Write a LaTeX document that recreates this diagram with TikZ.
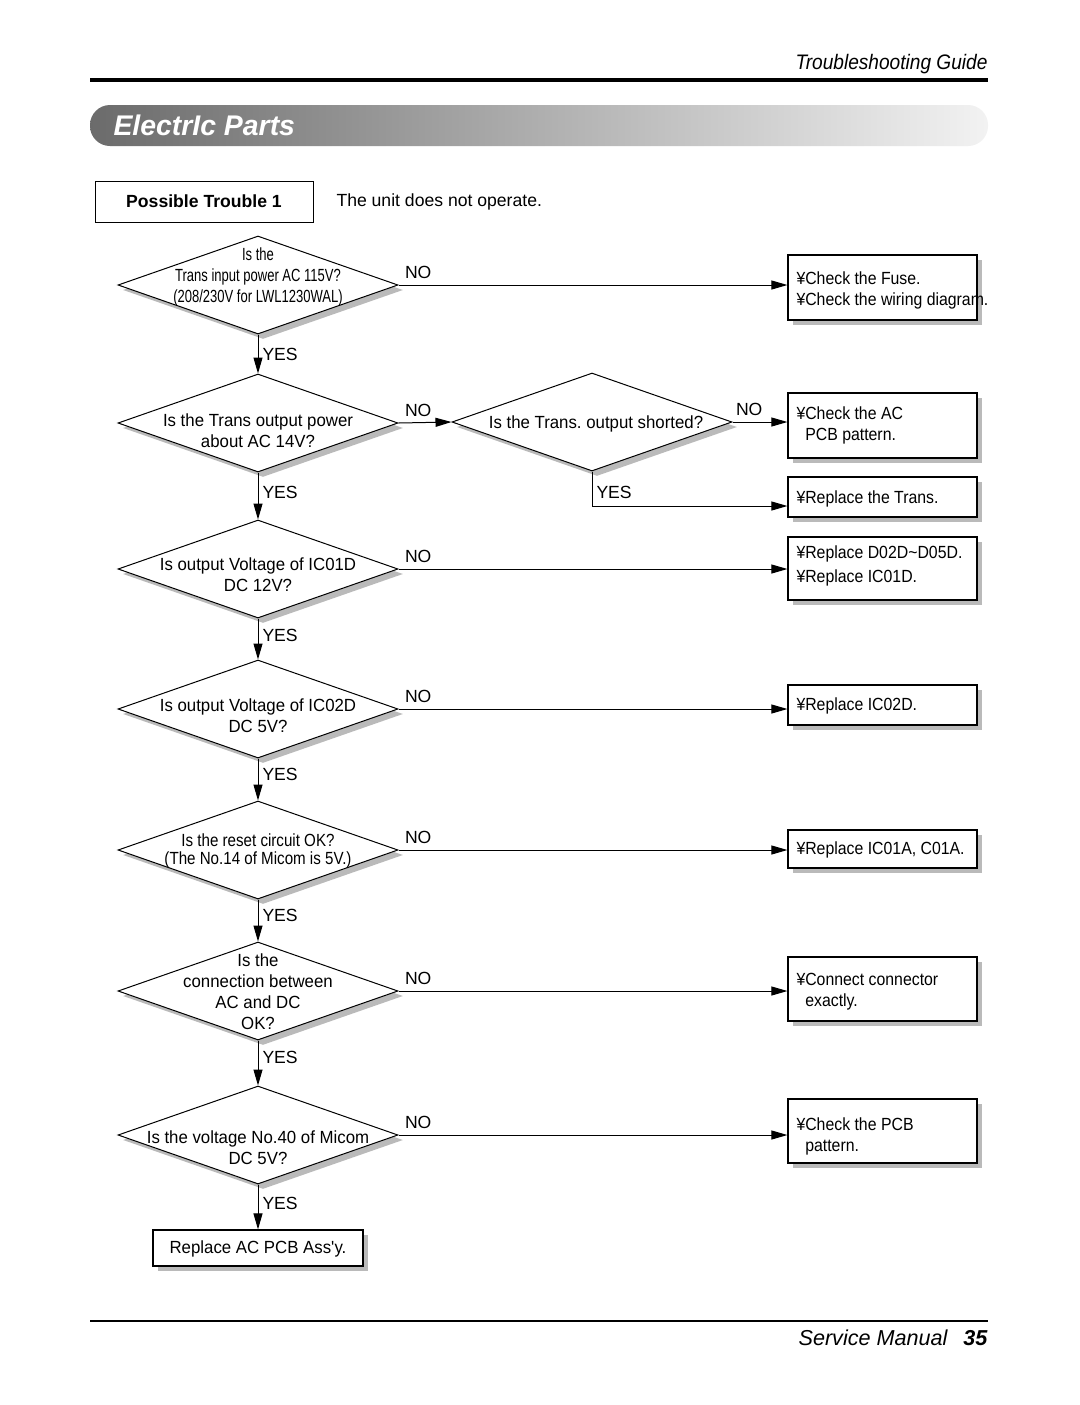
\documentclass[tikz,border=0pt]{standalone}
\usepackage{fontspec}
\setmainfont{Liberation Sans}
\newfontfamily\narrowA[FakeStretch=0.74]{Liberation Sans}
\newfontfamily\narrowB[FakeStretch=0.86]{Liberation Sans}
\newfontfamily\narrowC[FakeStretch=0.955]{Liberation Sans}
\newfontfamily\narrowD[FakeStretch=0.9]{Liberation Sans}
\newfontfamily\headfont[FakeStretch=0.91]{Liberation Sans}
\usetikzlibrary{shapes.geometric,shadows,arrows.meta}
\begin{document}
\frenchspacing
\begin{tikzpicture}[x=0.5pt,y=-0.5pt, line width=0.5pt,
 txt/.style={font=\fontsize{8.8}{10.5}\selectfont, inner sep=0pt, align=center},
 dtxt/.style={font=\narrowC\fontsize{8.8}{10.5}\selectfont, inner sep=0pt, align=center},
 ltxt/.style={font=\narrowD\fontsize{8.8}{10.5}\selectfont, inner sep=0pt, align=left, anchor=west},
 shd/.style={drop shadow={shadow xshift=2.5pt, shadow yshift=-2.5pt, fill=black!27, opacity=1}},
 dia/.style={diamond, draw, fill=white, minimum width=140pt, minimum height=49pt, inner sep=0pt, shd},
 rbox/.style={rectangle, draw, fill=white, line width=0.6pt, inner sep=0pt, minimum width=94.5pt, shd},
 arr/.style={-{Triangle[length=8pt,width=4.5pt]}},
 yes/.style={txt, anchor=west, xshift=2pt},
 no/.style={txt, anchor=south west, xshift=3pt, yshift=3pt},
 narrowtxt/.style={inner sep=0pt, align=center, font=\narrowA\fontsize{8.8}{10.5}\selectfont},
 narrowtxtB/.style={inner sep=0pt, align=center, font=\narrowB\fontsize{8.8}{9}\selectfont},
]
\useasboundingbox[fill=white] (0,0) rectangle (1080,1405);

% header
\node[anchor=base east, inner sep=0pt, font=\headfont\itshape\fontsize{10.5}{12}\selectfont] (hdr) at (988,69) {Troubleshooting Guide};
\coordinate (hl) at (90,80);
\coordinate (hr) at (988,80);
\draw[line width=2pt] (hl) -- (hr);

% banner
\shade[left color=black!58, right color=black!5, rounded corners=10pt] (90,105) rectangle (988,146);
\node[anchor=west, text=white, inner sep=0pt, font=\bfseries\itshape\fontsize{14.2}{16}\selectfont] (bant) at (113,125) {ElectrIc Parts};

% possible trouble
\node[draw, minimum width=109pt, minimum height=20.5pt, inner sep=0pt, font=\bfseries\fontsize{8.8}{10}\selectfont] (pt) at (204,201.5) {Possible Trouble 1};
\node[txt, anchor=west] (ptt) at (336,202) {The unit does not operate.};

% diamonds
\node[dia] (d1) at (258,285) {};
\node[narrowtxt] (d1t) at (258,277) {Is the\\Trans input power AC 115V?\\(208/230V for LWL1230WAL)};
\node[dia] (d2) at (258,423) {};
\node[dtxt] (d2t) at (258,431) {Is the Trans output power\\about AC 14V?};
\node[dia] (dt) at (592,422) {};
\node[dtxt] (dtt) at (596,424) {Is the Trans. output shorted?};
\node[dia] (d3) at (258,569) {};
\node[dtxt] (d3t) at (258,575) {Is output Voltage of IC01D\\DC 12V?};
\node[dia] (d4) at (258,709) {};
\node[dtxt] (d4t) at (258,716) {Is output Voltage of IC02D\\DC 5V?};
\node[dia] (d5) at (258,850) {};
\node[narrowtxtB] (d5t) at (258,851) {Is the reset circuit OK?\\(The No.14 of Micom is 5V.)};
\node[dia] (d6) at (258,991) {};
\node[dtxt] (d6t) at (258,992) {Is the\\connection between\\AC and DC\\OK?};
\node[dia] (d7) at (258,1135) {};
\node[dtxt] (d7t) at (258,1148) {Is the voltage No.40 of Micom\\DC 5V?};

% boxes
\node[rbox, minimum height=32.5pt] (b1) at (882.5,287.5) {};
\node[ltxt] (b1t) at (796,290) {¥Check the Fuse.\\¥Check the wiring diagram.};
\node[rbox, minimum height=32.5pt] (b2) at (882.5,425.5) {};
\node[ltxt] (b2t) at (796,425) {¥Check the AC\\\phantom{¥}PCB pattern.};
\node[rbox, minimum height=20pt] (b3) at (882.5,497) {};
\node[ltxt] (b3t) at (796,499) {¥Replace the Trans.};
\node[rbox, minimum height=31.5pt] (b4) at (882.5,568.5) {};
\node[ltxt, font=\narrowD\fontsize{8.8}{12}\selectfont] (b4t) at (796,566) {¥Replace D02D\textasciitilde D05D.\\¥Replace IC01D.};
\node[rbox, minimum height=20pt] (b5) at (882.5,705) {};
\node[ltxt] (b5t) at (796,706) {¥Replace IC02D.};
\node[rbox, minimum height=19pt] (b6) at (882.5,849) {};
\node[ltxt] (b6t) at (796,850) {¥Replace IC01A, C01A.};
\node[rbox, minimum height=32pt] (b7) at (882.5,989) {};
\node[ltxt] (b7t) at (796,992) {¥Connect connector\\\phantom{¥}exactly.};
\node[rbox, minimum height=32pt] (b8) at (882.5,1131) {};
\node[ltxt] (b8t) at (796,1136) {¥Check the PCB\\\phantom{¥}pattern.};
\node[rbox, minimum width=105pt, minimum height=18pt] (bf) at (258,1248) {};
\node[dtxt] (bft) at (258,1249) {Replace AC PCB Ass\textquotesingle y.};

% connectors
\draw[arr] (d1.east) -- node[no, pos=0]{NO} (d1.east -| b1.west);
\draw[arr] (d1.south) -- node[yes, pos=0.5]{YES} (d2.north);
\draw[arr] (d2.east) -- node[no, pos=0]{NO} (dt.west);
\draw[arr] (dt.east) -- node[no, pos=0, xshift=-1.5pt]{NO} (dt.east -| b2.west);
\draw[arr] (dt.south) |- node[yes, pos=0.3]{YES} ([yshift=-4.5pt]b3.west);
\draw[arr] (d2.south) -- node[yes, pos=0.42]{YES} (d3.north);
\draw[arr] (d3.east) -- node[no, pos=0]{NO} (d3.east -| b4.west);
\draw[arr] (d3.south) -- node[yes, pos=0.42]{YES} (d4.north);
\draw[arr] (d4.east) -- node[no, pos=0]{NO} (d4.east -| b5.west);
\draw[arr] (d4.south) -- node[yes, pos=0.38]{YES} (d5.north);
\draw[arr] (d5.east) -- node[no, pos=0]{NO} (d5.east -| b6.west);
\draw[arr] (d5.south) -- node[yes, pos=0.38]{YES} (d6.north);
\draw[arr] (d6.east) -- node[no, pos=0]{NO} (d6.east -| b7.west);
\draw[arr] (d6.south) -- node[yes, pos=0.38]{YES} (d7.north);
\draw[arr] (d7.east) -- node[no, pos=0]{NO} (d7.east -| b8.west);
\draw[arr] (d7.south) -- node[yes, pos=0.42]{YES} (bf.north);

% footer
\coordinate (fl) at (90,1321);
\coordinate (fr) at (988,1321);
\draw[line width=1.2pt] (fl) -- (fr);
\node[anchor=base east, inner sep=0pt, font=\itshape\fontsize{10.8}{12}\selectfont] (ftr) at (988,1345) {Service Manual\hspace{8pt}{\bfseries 35}};
\end{tikzpicture}
\end{document}
